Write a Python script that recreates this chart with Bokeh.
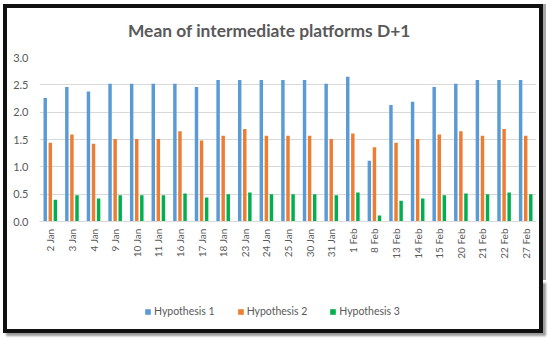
from bokeh.plotting import figure
from bokeh.layouts import column
from bokeh.models import (ColumnDataSource, FactorRange, Range1d, Legend, LegendItem,
                          SingleIntervalTicker, NumeralTickFormatter, Label)
from bokeh.transform import dodge
from bokeh.embed import file_html
from bokeh.resources import INLINE

title_text = "Mean of intermediate platforms D+1"
dates = ["2 Jan", "3 Jan", "4 Jan", "9 Jan", "10 Jan", "11 Jan", "16 Jan", "17 Jan",
         "18 Jan", "23 Jan", "24 Jan", "25 Jan", "30 Jan", "31 Jan", "1 Feb", "8 Feb",
         "13 Feb", "14 Feb", "15 Feb", "20 Feb", "21 Feb", "22 Feb", "27 Feb"]
hyp1 = [2.26, 2.46, 2.38, 2.52, 2.52, 2.52, 2.52, 2.46, 2.59, 2.59, 2.59, 2.59,
        2.59, 2.52, 2.65, 1.11, 2.13, 2.19, 2.46, 2.52, 2.59, 2.59, 2.59]
hyp2 = [1.44, 1.59, 1.42, 1.51, 1.51, 1.51, 1.65, 1.48, 1.57, 1.69, 1.57, 1.57,
        1.57, 1.51, 1.61, 1.36, 1.44, 1.51, 1.59, 1.65, 1.57, 1.69, 1.57]
hyp3 = [0.40, 0.48, 0.42, 0.48, 0.48, 0.48, 0.51, 0.44, 0.50, 0.53, 0.50, 0.50,
        0.50, 0.48, 0.53, 0.11, 0.38, 0.42, 0.48, 0.51, 0.50, 0.53, 0.50]
series_names = ["Hypothesis 1", "Hypothesis 2", "Hypothesis 3"]
colors = ["#5B9BD5", "#ED7D31", "#00B050"]

source = ColumnDataSource(dict(date=dates, h1=hyp1, h2=hyp2, h3=hyp3))

FONT = "Lato"
GREY = "#595959"
BORDER = "4px solid #111111"
W = 540


def strip(height, **kw):
    f = figure(width=W, height=height, x_range=Range1d(0, 532), y_range=Range1d(0, height),
               output_backend="svg", toolbar_location=None,
               x_axis_location=None, y_axis_location=None,
               min_border_left=0, min_border_right=0, min_border_top=0, min_border_bottom=0, **kw)
    f.outline_line_color = None
    f.xgrid.grid_line_color = None
    f.ygrid.grid_line_color = None
    return f


# title strip
tf = strip(41)
tf.y_range = Range1d(0, 37)
tf.styles = {"border-top": BORDER, "border-left": BORDER, "border-right": BORDER,
             "border-bottom": "0px", "box-shadow": "3px 0px 0px #a8a8a8",
             "margin-left": "3px", "margin-top": "4px"}
tf.add_layout(Label(x=246, y=17, text=title_text, text_align="center",
                    text_baseline="middle", text_font=FONT, text_font_size="17.4px",
                    text_font_style="bold", text_color=GREY))

# main chart
p = figure(width=W, height=235, x_range=FactorRange(*dates, range_padding=0),
           y_range=Range1d(0, 3.0), output_backend="svg", toolbar_location=None,
           min_border_left=32, min_border_right=11, min_border_top=12, min_border_bottom=59)
p.styles = {"border-left": BORDER, "border-right": BORDER, "border-top": "0px",
            "border-bottom": "0px", "box-shadow": "3px 0px 0px #a8a8a8",
            "margin-left": "3px"}

p.outline_line_color = None
p.xgrid.grid_line_color = None
p.ygrid.grid_line_color = "#D9D9D9"
p.ygrid.grid_line_width = 1

p.yaxis.ticker = SingleIntervalTicker(interval=0.5)
p.yaxis.formatter = NumeralTickFormatter(format="0.0")
p.yaxis.axis_line_color = None
p.yaxis.major_tick_line_color = None
p.yaxis.minor_tick_line_color = None
p.yaxis.major_tick_out = 0
p.yaxis.major_label_standoff = 7
p.yaxis.major_label_text_font = FONT
p.yaxis.major_label_text_font_size = "11px"
p.yaxis.major_label_text_color = GREY

p.xaxis.axis_line_color = "#D9D9D9"
p.xaxis.major_tick_line_color = None
p.xaxis.major_tick_out = 0
p.xaxis.major_label_orientation = 1.5708
p.xaxis.major_label_standoff = 7
p.xaxis.major_label_text_font = FONT
p.xaxis.major_label_text_font_size = "10px"
p.xaxis.major_label_text_color = GREY

w = 0.16
offsets = [-0.235, 0.0, 0.235]
for col, off, c in zip(["h1", "h2", "h3"], offsets, colors):
    p.vbar(x=dodge("date", off, range=p.x_range), top=col, width=w, source=source,
           fill_color=c, line_color=None)

# legend strip
lf = strip(53)
lf.y_range = Range1d(0, 49)
lf.styles = {"border-bottom": BORDER, "border-left": BORDER, "border-right": BORDER,
             "border-top": "0px", "box-shadow": "3px 3px 2px #9a9a9a",
             "margin-left": "3px"}
# off-screen stand-ins that only provide the legend swatches
dummies = [lf.vbar(x=[-100], top=[0], width=1, fill_color=c, line_color=None) for c in colors]

legend = Legend(items=[LegendItem(label=n, renderers=[r]) for n, r in zip(series_names, dummies)],
                location=(105, 16), orientation="horizontal",
                padding=0, margin=0, spacing=22, label_standoff=3,
                glyph_width=7, glyph_height=7, label_height=12,
                label_text_font=FONT, label_text_font_size="10.5px",
                label_text_color=GREY, border_line_color=None,
                background_fill_alpha=0)
lf.add_layout(legend)

layout = column(tf, p, lf, spacing=0)
open("out.html", "w").write(file_html(layout, INLINE))
